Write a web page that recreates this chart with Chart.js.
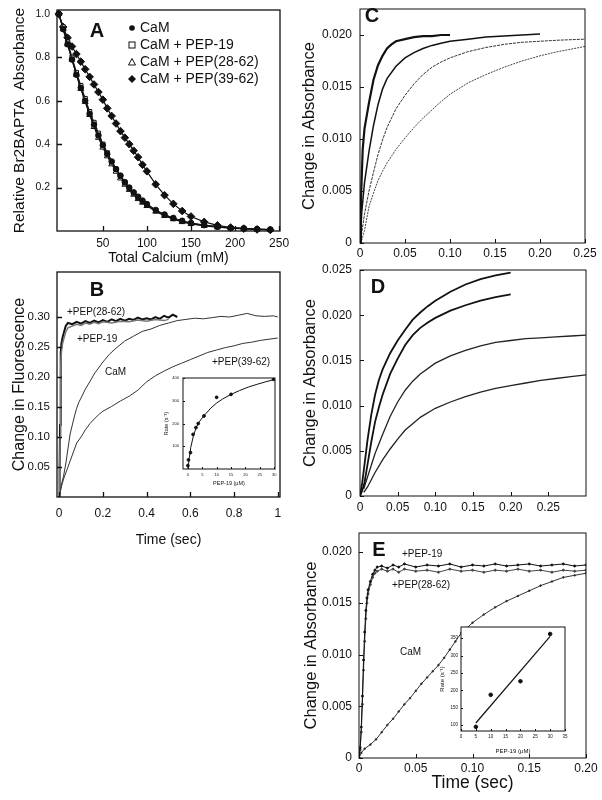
<!DOCTYPE html>
<html>
<head>
<meta charset="utf-8">
<script src="https://cdn.jsdelivr.net/npm/chart.js@4.4.1/dist/chart.umd.min.js"></script>
<style>
  body { margin: 0; background: #fff; }
  #page { position: relative; width: 602px; height: 800px; overflow: hidden; background: #fff; }
  canvas { position: absolute; }
</style>
</head>
<body>
<div id="page"></div>
<script>
// ---- Panel A: Br2BAPTA titration ----
const calciumA = [0, 5, 10, 15, 20, 25, 30, 35, 40, 45, 50, 55, 60, 65, 70, 75, 80, 85, 90, 95, 100, 110, 120, 130, 140, 150, 165, 180, 195, 210, 225, 240];
const camA     = [1.00, 0.93, 0.86, 0.79, 0.72, 0.66, 0.60, 0.54, 0.49, 0.44, 0.395, 0.355, 0.32, 0.285, 0.255, 0.225, 0.20, 0.178, 0.158, 0.14, 0.124, 0.097, 0.076, 0.06, 0.047, 0.037, 0.027, 0.02, 0.015, 0.012, 0.009, 0.007];
const pep19A   = [1.00, 0.94, 0.87, 0.80, 0.73, 0.67, 0.61, 0.55, 0.50, 0.45, 0.40, 0.36, 0.32, 0.285, 0.252, 0.222, 0.197, 0.175, 0.155, 0.137, 0.121, 0.094, 0.074, 0.058, 0.045, 0.035, 0.026, 0.019, 0.014, 0.011, 0.008, 0.006];
const pep2862A = [1.00, 0.93, 0.86, 0.79, 0.72, 0.655, 0.595, 0.535, 0.48, 0.43, 0.385, 0.345, 0.308, 0.274, 0.243, 0.214, 0.19, 0.168, 0.148, 0.131, 0.116, 0.09, 0.07, 0.055, 0.042, 0.033, 0.024, 0.018, 0.013, 0.01, 0.008, 0.006];
const pep3962A = [1.00, 0.94, 0.89, 0.85, 0.815, 0.78, 0.745, 0.71, 0.675, 0.64, 0.605, 0.565, 0.53, 0.495, 0.46, 0.43, 0.40, 0.37, 0.34, 0.305, 0.275, 0.215, 0.165, 0.125, 0.092, 0.067, 0.042, 0.026, 0.016, 0.011, 0.007, 0.005];
const aXLabels = ['50', '100', '150', '200', '250'];
const aYLabels = ['0.2', '0.4', '0.6', '0.8', '1.0'];

// ---- Panel B: fluorescence stopped-flow ----
const camBt  = [0, 0.005, 0.01, 0.02, 0.03, 0.04, 0.05, 0.06, 0.07, 0.08, 0.09, 0.10, 0.12, 0.14, 0.16, 0.18, 0.20, 0.23, 0.26, 0.30, 0.34, 0.38, 0.42, 0.46, 0.50, 0.54, 0.58, 0.62, 0.66, 0.70, 0.74, 0.78, 0.82, 0.86, 0.90, 0.94, 0.98, 1.0];
const camB   = [0, 0.01, 0.02, 0.035, 0.055, 0.08, 0.105, 0.12, 0.135, 0.148, 0.158, 0.165, 0.18, 0.192, 0.205, 0.215, 0.225, 0.238, 0.248, 0.26, 0.268, 0.276, 0.28, 0.286, 0.29, 0.294, 0.296, 0.298, 0.297, 0.299, 0.301, 0.300, 0.303, 0.306, 0.302, 0.301, 0.302, 0.300];
const p2862Bt = [0, 0.002, 0.004, 0.006, 0.008, 0.01, 0.015, 0.02, 0.03, 0.04, 0.06, 0.08, 0.10, 0.12, 0.14, 0.16, 0.18, 0.20, 0.22, 0.24, 0.26, 0.28, 0.30, 0.32, 0.34, 0.36, 0.38, 0.40, 0.42, 0.44, 0.46, 0.48, 0.50, 0.52, 0.54];
const p2862B  = [0, 0.05, 0.12, 0.20, 0.24, 0.255, 0.265, 0.272, 0.285, 0.29, 0.288, 0.292, 0.289, 0.293, 0.29, 0.294, 0.291, 0.295, 0.292, 0.296, 0.293, 0.297, 0.294, 0.297, 0.295, 0.299, 0.296, 0.298, 0.296, 0.300, 0.297, 0.302, 0.299, 0.304, 0.300];
const p19Bt  = [0, 0.002, 0.004, 0.006, 0.008, 0.01, 0.015, 0.02, 0.03, 0.04, 0.06, 0.08, 0.10, 0.12, 0.14, 0.16, 0.18, 0.20, 0.24, 0.28, 0.32, 0.36, 0.40, 0.44, 0.48, 0.50];
const p19B   = [0, 0.04, 0.10, 0.18, 0.22, 0.24, 0.255, 0.262, 0.275, 0.282, 0.285, 0.288, 0.286, 0.290, 0.288, 0.291, 0.289, 0.292, 0.290, 0.293, 0.292, 0.295, 0.293, 0.296, 0.294, 0.296];
const p3962Bt = [0, 0.005, 0.01, 0.02, 0.03, 0.04, 0.06, 0.08, 0.10, 0.12, 0.14, 0.16, 0.18, 0.20, 0.24, 0.28, 0.32, 0.36, 0.40, 0.44, 0.48, 0.52, 0.56, 0.60, 0.64, 0.68, 0.72, 0.76, 0.80, 0.84, 0.88, 0.92, 0.96, 1.0];
const p3962B  = [0, 0.008, 0.017, 0.03, 0.04, 0.05, 0.07, 0.09, 0.10, 0.112, 0.122, 0.13, 0.137, 0.143, 0.151, 0.16, 0.168, 0.178, 0.192, 0.202, 0.21, 0.217, 0.223, 0.229, 0.235, 0.241, 0.245, 0.249, 0.252, 0.256, 0.258, 0.261, 0.263, 0.265];
const bXLabels = ['0', '0.2', '0.4', '0.6', '0.8', '1'];
const bYLabels = ['0.05', '0.10', '0.15', '0.20', '0.25', '0.30'];

// inset B: rate vs PEP-19
const insBx    = [0, 0.2, 0.9, 1.8, 2.8, 3.6, 5.6, 10, 15, 29.8];
const insBrate = [15, 40, 72, 152, 182, 200, 233, 315, 328, 394];
const insBfitX = [0, 0.5, 1, 2, 3, 4, 5, 6, 8, 10, 12, 15, 18, 21, 24, 27, 30];
const insBfitY = [0, 50, 95, 150, 185, 208, 225, 240, 268, 290, 307, 328, 345, 360, 372, 383, 393];
const insBXLabels = ['0', '5', '10', '15', '20', '25', '30'];
const insBYLabels = ['100', '200', '300', '400'];

// ---- Panel C ----
const c1t = [0, 0.001, 0.003, 0.005, 0.01, 0.015, 0.02, 0.025, 0.03, 0.035, 0.04, 0.05, 0.06, 0.07, 0.08, 0.09, 0.10];
const c1  = [0, 0.004, 0.009, 0.011, 0.0135, 0.0157, 0.0171, 0.018, 0.0187, 0.0191, 0.0194, 0.0196, 0.0198, 0.0199, 0.0199, 0.0200, 0.0200];
const c2t = [0, 0.002, 0.005, 0.01, 0.015, 0.02, 0.025, 0.03, 0.04, 0.05, 0.06, 0.07, 0.08, 0.09, 0.10, 0.12, 0.14, 0.16, 0.18, 0.20];
const c2  = [0, 0.003, 0.0058, 0.0088, 0.0113, 0.0133, 0.0148, 0.0158, 0.0170, 0.0178, 0.0183, 0.0187, 0.0190, 0.0192, 0.0194, 0.0196, 0.0198, 0.0199, 0.0200, 0.0201];
const c3t = [0, 0.002, 0.005, 0.01, 0.015, 0.02, 0.025, 0.03, 0.04, 0.05, 0.06, 0.07, 0.08, 0.09, 0.10, 0.12, 0.14, 0.16, 0.18, 0.20, 0.22, 0.25];
const c3  = [0, 0.001, 0.0028, 0.0050, 0.0068, 0.0085, 0.0099, 0.0111, 0.0129, 0.0142, 0.0153, 0.0162, 0.0169, 0.0174, 0.0178, 0.0184, 0.0188, 0.0191, 0.0193, 0.0194, 0.0195, 0.0196];
const c4t = [0, 0.002, 0.005, 0.01, 0.015, 0.02, 0.025, 0.03, 0.04, 0.05, 0.06, 0.07, 0.08, 0.09, 0.10, 0.12, 0.14, 0.16, 0.18, 0.20, 0.22, 0.25];
const c4  = [0, 0.0003, 0.0012, 0.0035, 0.0048, 0.0060, 0.0069, 0.0077, 0.0090, 0.0101, 0.0111, 0.0120, 0.0128, 0.0136, 0.0143, 0.0154, 0.0162, 0.0169, 0.0175, 0.0180, 0.0184, 0.0189];
const cXLabels = ['0', '0.05', '0.10', '0.15', '0.20', '0.25'];
const cYLabels = ['0', '0.005', '0.010', '0.015', '0.020'];

// ---- Panel D ----
const d1t = [0, 0.003, 0.006, 0.01, 0.015, 0.02, 0.025, 0.03, 0.04, 0.05, 0.06, 0.07, 0.08, 0.09, 0.10, 0.12, 0.14, 0.16, 0.18, 0.20];
const d1  = [0, 0.0015, 0.0035, 0.0062, 0.0090, 0.0112, 0.0128, 0.0140, 0.0158, 0.0172, 0.0184, 0.0195, 0.0203, 0.0210, 0.0216, 0.0226, 0.0234, 0.0240, 0.0244, 0.0247];
const d2t = [0, 0.003, 0.006, 0.01, 0.015, 0.02, 0.025, 0.03, 0.04, 0.05, 0.06, 0.07, 0.08, 0.09, 0.10, 0.12, 0.14, 0.16, 0.18, 0.20];
const d2  = [0, 0.0006, 0.0015, 0.0035, 0.0060, 0.0082, 0.0098, 0.0112, 0.0135, 0.0152, 0.0167, 0.0178, 0.0186, 0.0192, 0.0197, 0.0205, 0.0211, 0.0216, 0.0220, 0.0223];
const d3t = [0.005, 0.01, 0.015, 0.02, 0.03, 0.04, 0.05, 0.06, 0.07, 0.08, 0.10, 0.12, 0.14, 0.16, 0.18, 0.20, 0.22, 0.24, 0.26, 0.28, 0.30];
const d3  = [0.0008, 0.0021, 0.0034, 0.0047, 0.0068, 0.0088, 0.0104, 0.0117, 0.0127, 0.0135, 0.0147, 0.0155, 0.0161, 0.0166, 0.0170, 0.0172, 0.0174, 0.0175, 0.0176, 0.0177, 0.0178];
const d4t = [0.005, 0.01, 0.015, 0.02, 0.03, 0.04, 0.05, 0.06, 0.07, 0.08, 0.10, 0.12, 0.14, 0.16, 0.18, 0.20, 0.22, 0.24, 0.26, 0.28, 0.30];
const d4  = [0.0004, 0.0010, 0.0018, 0.0026, 0.0040, 0.0052, 0.0063, 0.0073, 0.0080, 0.0087, 0.0097, 0.0104, 0.0110, 0.0115, 0.0119, 0.0122, 0.0125, 0.0128, 0.0130, 0.0132, 0.0134];
const dXLabels = ['0', '0.05', '0.10', '0.15', '0.20', '0.25'];
const dYLabels = ['0', '0.005', '0.010', '0.015', '0.020', '0.025'];

// ---- Panel E ----
const fastEt = [0, 0.001, 0.002, 0.003, 0.004, 0.005, 0.006, 0.007, 0.008, 0.010, 0.012, 0.014, 0.016, 0.02, 0.025, 0.03, 0.035, 0.04, 0.05, 0.06, 0.07, 0.08, 0.09, 0.10, 0.11, 0.12, 0.13, 0.14, 0.15, 0.16, 0.17, 0.18, 0.19, 0.20];
const p19E   = [0, 0.001, 0.003, 0.006, 0.0095, 0.0122, 0.0143, 0.0155, 0.0163, 0.0171, 0.0178, 0.0182, 0.0185, 0.0186, 0.0184, 0.0187, 0.0185, 0.0188, 0.0185, 0.0187, 0.0186, 0.0188, 0.0185, 0.0187, 0.0186, 0.0188, 0.0186, 0.0187, 0.0188, 0.0186, 0.0187, 0.0188, 0.0186, 0.0187];
const p2862E = [0, 0.0008, 0.0025, 0.0052, 0.0085, 0.0113, 0.0135, 0.0150, 0.0159, 0.0168, 0.0175, 0.0179, 0.0181, 0.0183, 0.0181, 0.0183, 0.0180, 0.0183, 0.0181, 0.0182, 0.0180, 0.0183, 0.0181, 0.0182, 0.0180, 0.0182, 0.0181, 0.0183, 0.0181, 0.0182, 0.0180, 0.0182, 0.0181, 0.0182];
const camEt  = [0, 0.002, 0.005, 0.01, 0.015, 0.02, 0.025, 0.03, 0.035, 0.04, 0.045, 0.05, 0.055, 0.06, 0.065, 0.07, 0.075, 0.08, 0.085, 0.09, 0.095, 0.10, 0.11, 0.12, 0.13, 0.14, 0.15, 0.16, 0.17, 0.18, 0.19, 0.20];
const camE   = [0, 0.0005, 0.0009, 0.0013, 0.0018, 0.0025, 0.0032, 0.0038, 0.0045, 0.0052, 0.0058, 0.0065, 0.0072, 0.0078, 0.0084, 0.0090, 0.0097, 0.0105, 0.0113, 0.0121, 0.0126, 0.0131, 0.0139, 0.0146, 0.0152, 0.0157, 0.0162, 0.0167, 0.0171, 0.0175, 0.0177, 0.0179];
const eXLabels = ['0', '0.05', '0.10', '0.15', '0.20'];
const eYLabels = ['0', '0.005', '0.010', '0.015', '0.020'];

// inset E: rate vs PEP-19 (linear)
const insEx    = [5, 10, 20, 30];
const insErate = [95, 187, 226, 362];
const insEfitX = [5, 30];
const insEfitY = [106, 355];
const insEXLabels = ['0', '5', '10', '15', '20', '25', '30', '35'];
const insEYLabels = ['100', '150', '200', '250', '300', '350'];

const FONT = '"Liberation Sans", Arial, Helvetica, sans-serif';
const INK = '#111';
const page = document.getElementById('page');

function pts(xs, ys) {
  return xs.map((x, i) => ({ x: x, y: ys[i] }));
}

function trace(xs, ys, style) {
  return Object.assign({
    data: pts(xs, ys), showLine: true, pointRadius: 0, borderColor: INK,
    backgroundColor: INK, borderWidth: 1, tension: 0
  }, style);
}

// axis whose size is pinned so the plot area lands where the reference has it
function mkAxis(o, size, horizontal) {
  const vals = o.labels.map(Number);
  return {
    type: 'linear', position: horizontal ? 'bottom' : 'left',
    min: o.min, max: o.max,
    grid: { display: false, drawTicks: false },
    border: { display: false },
    afterBuildTicks: s => { s.ticks = vals.map(v => ({ value: v })); },
    afterFit: s => {
      if (horizontal) s.height = size; else s.width = size;
      s.paddingLeft = 0; s.paddingRight = 0; s.paddingTop = 0; s.paddingBottom = 0;
    },
    ticks: {
      autoSkip: false, maxRotation: 0, minRotation: 0, padding: o.pad, color: INK,
      font: { family: FONT, size: o.fs }, callback: (v, i) => o.labels[i]
    },
    title: o.title ? {
      display: true, text: o.title, color: INK,
      font: { family: FONT, size: o.tfs }, padding: { top: o.tpad, bottom: o.tpad }
    } : { display: false }
  };
}

// frame, inward ticks, letters and labels
function decor(box, spec) {
  return {
    id: 'decor',
    beforeDraw(chart) {
      if (!spec.fill) return;
      const a = chart.chartArea, ctx = chart.ctx;
      ctx.save();
      ctx.fillStyle = '#fff';
      ctx.fillRect(a.left, a.top, a.right - a.left, a.bottom - a.top);
      ctx.restore();
    },
    afterDraw(chart) {
      const { ctx, chartArea: a, scales } = chart;
      ctx.save();
      ctx.strokeStyle = INK;
      ctx.lineWidth = spec.lw;
      ctx.strokeRect(a.left, a.top, a.right - a.left, a.bottom - a.top);
      ctx.beginPath();
      scales.x.ticks.forEach(t => {
        const p = Math.round(scales.x.getPixelForValue(t.value)) + 0.5;
        ctx.moveTo(p, a.bottom); ctx.lineTo(p, a.bottom - spec.len);
      });
      scales.y.ticks.forEach(t => {
        const p = Math.round(scales.y.getPixelForValue(t.value)) + 0.5;
        ctx.moveTo(a.left, p); ctx.lineTo(a.left + spec.len, p);
      });
      ctx.stroke();
      ctx.fillStyle = INK;
      ctx.textBaseline = 'middle';
      (spec.notes || []).forEach(n => {
        ctx.font = n.font;
        ctx.textAlign = n.align || 'left';
        ctx.fillText(n.text, n.x - box[0], n.y - box[1]);
      });
      if (spec.legend) drawLegendA(ctx, box);
      ctx.restore();
    }
  };
}

function drawLegendA(ctx, box) {
  const rows = [
    ['circle', 'CaM', 28], ['square', 'CaM + PEP-19', 45],
    ['triangle', 'CaM + PEP(28-62)', 62], ['diamond', 'CaM + PEP(39-62)', 79]
  ];
  ctx.font = '14px ' + FONT;
  ctx.textAlign = 'left';
  ctx.lineWidth = 1;
  rows.forEach(r => {
    const x = 132 - box[0], y = r[2] - box[1];
    ctx.beginPath();
    if (r[0] === 'circle') { ctx.arc(x, y, 2.8, 0, Math.PI * 2); ctx.fill(); }
    if (r[0] === 'square') { ctx.strokeRect(x - 3, y - 3, 6, 6); }
    if (r[0] === 'triangle') { ctx.moveTo(x, y - 3.5); ctx.lineTo(x + 3.5, y + 3); ctx.lineTo(x - 3.5, y + 3); ctx.closePath(); ctx.stroke(); }
    if (r[0] === 'diamond') { ctx.moveTo(x, y - 4); ctx.lineTo(x + 4, y); ctx.lineTo(x, y + 4); ctx.lineTo(x - 4, y); ctx.closePath(); ctx.fill(); }
    ctx.fillText(r[1], 140 - box[0], y + 0.5);
  });
}

// box = canvas rect on the page, area = plot rect on the page
function panel(box, area, xo, yo, datasets, spec) {
  const c = document.createElement('canvas');
  const w = box[2] - box[0], h = box[3] - box[1];
  c.width = w; c.height = h;
  c.style.left = box[0] + 'px'; c.style.top = box[1] + 'px';
  c.style.width = w + 'px'; c.style.height = h + 'px';
  page.appendChild(c);
  return new Chart(c, {
    type: 'scatter',
    data: { datasets: datasets },
    options: {
      responsive: false, animation: false, devicePixelRatio: 1,
      layout: { padding: { left: 0, bottom: 0, top: area[1] - box[1], right: box[2] - area[2] } },
      plugins: { legend: { display: false }, tooltip: { enabled: false } },
      scales: {
        x: mkAxis(xo, box[3] - area[3], true),
        y: mkAxis(yo, area[0] - box[0], false)
      }
    },
    plugins: [decor(box, spec)]
  });
}

const bold = '700 20px ' + FONT;
const small = '10px ' + FONT;

// A
panel([0, 0, 300, 268], [57, 10, 280, 231],
  { min: -2, max: 251, labels: aXLabels, fs: 12, pad: 5, title: 'Total Calcium (mM)', tfs: 14, tpad: 1.5 },
  { min: 0, max: 1.018, labels: aYLabels, fs: 10.5, pad: 7, title: 'Relative Br2BAPTA  Absorbance', tfs: 15.5, tpad: 10.5 },
  [
    trace(calciumA, camA, { pointRadius: 2.8, pointStyle: 'circle', pointBorderWidth: 1, borderWidth: 1.2, clip: 6 }),
    trace(calciumA, pep19A, { pointRadius: 3, pointStyle: 'rect', backgroundColor: '#fff', pointBorderWidth: 1, borderWidth: 1.2, clip: 6 }),
    trace(calciumA, pep2862A, { pointRadius: 3.4, pointStyle: 'triangle', backgroundColor: '#fff', pointBorderWidth: 1, borderWidth: 1.2, clip: 6 }),
    trace(calciumA, pep3962A, { pointRadius: 3.8, pointStyle: 'rectRot', pointBorderWidth: 1, borderWidth: 1.2, clip: 6 })
  ],
  { lw: 1.3, len: 5, legend: true, notes: [{ text: 'A', x: 97, y: 31, font: bold, align: 'center' }] });

// B
panel([0, 262, 300, 552], [57, 272, 280, 497],
  { min: -0.01, max: 1.01, labels: bXLabels, fs: 12, pad: 9, title: 'Time (sec)', tfs: 14, tpad: 3.6 },
  { min: 0, max: 0.375, labels: bYLabels, fs: 11.5, pad: 7, title: 'Change in Fluorescence', tfs: 16, tpad: 10.4 },
  [
    trace(p19Bt, p19B, { borderColor: '#777', borderWidth: 1.5 }),
    trace(p2862Bt, p2862B, { borderWidth: 2 }),
    trace(camBt, camB, { borderColor: '#333', borderWidth: 1 }),
    trace(p3962Bt, p3962B, { borderColor: '#333', borderWidth: 1 })
  ],
  { lw: 1.3, len: 5, notes: [
    { text: 'B', x: 97, y: 290, font: bold, align: 'center' },
    { text: '+PEP(28-62)', x: 67, y: 312, font: small },
    { text: '+PEP-19', x: 77, y: 339, font: small },
    { text: 'CaM', x: 105, y: 372, font: small },
    { text: '+PEP(39-62)', x: 212, y: 362, font: small }
  ] });

// C
panel([290, 0, 602, 262], [360, 9, 585, 243],
  { min: 0, max: 0.25, labels: cXLabels, fs: 12, pad: 3 },
  { min: 0, max: 0.0225, labels: cYLabels, fs: 12, pad: 8, title: 'Change in Absorbance', tfs: 16.5, tpad: 10 },
  [
    trace(c1t, c1, { borderWidth: 2.2 }),
    trace(c2t, c2, { borderWidth: 1.5 }),
    trace(c3t, c3, { borderColor: '#333', borderWidth: 1, borderDash: [3, 1] }),
    trace(c4t, c4, { borderColor: '#444', borderWidth: 1, borderDash: [2, 1] })
  ],
  { lw: 1, len: 4, notes: [{ text: 'C', x: 372, y: 16, font: bold, align: 'center' }] });

// D
panel([290, 262, 602, 515], [360, 270, 586, 496],
  { min: 0, max: 0.30, labels: dXLabels, fs: 12, pad: 4 },
  { min: 0, max: 0.025, labels: dYLabels, fs: 12, pad: 8, title: 'Change in Absorbance', tfs: 16.5, tpad: 11 },
  [
    trace(d1t, d1, { borderWidth: 1.8 }),
    trace(d2t, d2, { borderWidth: 1.8 }),
    trace(d3t, d3, { borderColor: '#222', borderWidth: 1.3 }),
    trace(d4t, d4, { borderColor: '#222', borderWidth: 1.3 })
  ],
  { lw: 1, len: 4, notes: [{ text: 'D', x: 378, y: 287, font: bold, align: 'center' }] });

// E
panel([290, 515, 602, 800], [359, 533, 586, 758],
  { min: 0, max: 0.20, labels: eXLabels, fs: 12, pad: 3, title: 'Time (sec)', tfs: 17.5, tpad: 6 },
  { min: 0, max: 0.0218, labels: eYLabels, fs: 12, pad: 7, title: 'Change in Absorbance', tfs: 16.5, tpad: 11.5 },
  [
    trace(fastEt, p19E, { borderWidth: 1, pointRadius: 1 }),
    trace(fastEt, p2862E, { borderColor: '#444', backgroundColor: '#444', borderWidth: 1, pointRadius: 1 }),
    trace(camEt, camE, { borderColor: '#333', borderWidth: 1, pointRadius: 0.8 })
  ],
  { lw: 1, len: 4, notes: [
    { text: 'E', x: 379, y: 550, font: bold, align: 'center' },
    { text: '+PEP-19', x: 402, y: 554, font: small },
    { text: '+PEP(28-62)', x: 392, y: 585, font: small },
    { text: 'CaM', x: 400, y: 652, font: small }
  ] });

// inset B
panel([150, 370, 285, 490], [183, 378, 275, 469],
  { min: -1.7, max: 30.3, labels: insBXLabels, fs: 4, pad: 3, title: 'PEP-19 (\u03bcM)', tfs: 5.5, tpad: 3.7 },
  { min: 0, max: 400, labels: insBYLabels, fs: 4, pad: 4, title: 'Rate (s\u207b\u00b9)', tfs: 5.5, tpad: 12.7 },
  [
    trace(insBx, insBrate, { showLine: false, pointRadius: 1.4 }),
    trace(insBfitX, insBfitY, { borderWidth: 1 })
  ],
  { lw: 1, len: 2, fill: true });

// inset E
panel([425, 620, 580, 762], [461, 627, 565, 731],
  { min: 0, max: 35, labels: insEXLabels, fs: 4.5, pad: 3, title: 'PEP-19 (\u03bcM)', tfs: 6, tpad: 7.5 },
  { min: 83, max: 382, labels: insEYLabels, fs: 4.5, pad: 3, title: 'Rate (s\u207b\u00b9)', tfs: 6, tpad: 13.4 },
  [
    trace(insEx, insErate, { showLine: false, pointRadius: 1.8 }),
    trace(insEfitX, insEfitY, { borderWidth: 1.2 })
  ],
  { lw: 1, len: 2, fill: true });
</script>
</body>
</html>
